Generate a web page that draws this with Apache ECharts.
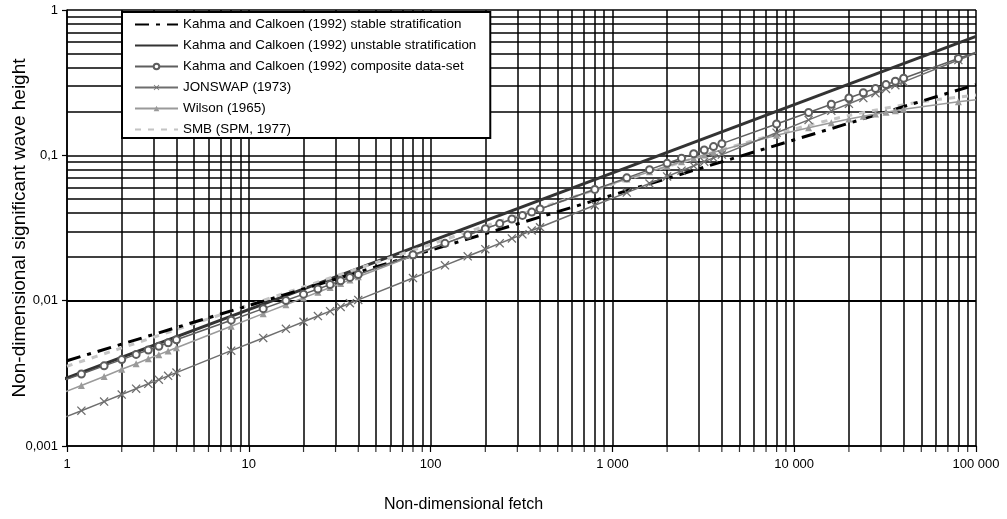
<!DOCTYPE html>
<html><head><meta charset="utf-8">
<script src="https://cdn.jsdelivr.net/npm/echarts@6/dist/echarts.min.js"></script>
<style>html,body{margin:0;padding:0;background:#fff}#c{width:1007px;height:519px}</style>
</head><body><div id="c"></div>
<script>
// ---- data ----
const seriesNames = [
  'Kahma and Calkoen (1992) stable stratification',
  'Kahma and Calkoen (1992) unstable stratification',
  'Kahma and Calkoen (1992) composite data-set',
  'JONSWAP (1973)',
  'Wilson (1965)',
  'SMB (SPM, 1977)'
];
const markerFetch = [1.2,1.6,2,2.4,2.8,3.2,3.6,4,8,
  12,16,20,24,28,32,36,40,80,
  120,160,200,240,280,320,360,400,800,
  1200,1600,2000,2400,2800,3200,3600,4000,8000,
  12000,16000,20000,24000,28000,32000,36000,40000,80000];
const compositeH = [0.00313,0.00356,0.00393,0.00427,0.00458,0.00486,0.00513,0.00538,0.00734,
  0.00881,0.01003,0.01109,0.01203,0.0129,0.0137,0.01445,0.01515,0.0207,
  0.0248,0.0283,0.0313,0.0339,0.0364,0.0386,0.0407,0.0427,0.0583,
  0.070,0.0797,0.0881,0.0956,0.1025,0.1088,0.1148,0.1203,0.1644,
  0.1972,0.2246,0.2482,0.2694,0.2888,0.3067,0.3234,0.3392,0.4633];
const jonswapH = [0.00175,0.00202,0.00226,0.00248,0.00268,0.00286,0.00304,0.0032,0.00453,
  0.00554,0.0064,0.00716,0.00784,0.00847,0.00905,0.0096,0.01012,0.01431,
  0.0175,0.0202,0.0226,0.0248,0.0268,0.0286,0.0304,0.032,0.0453,
  0.0554,0.064,0.0716,0.0784,0.0847,0.0905,0.096,0.1012,0.1431,
  0.1753,0.2024,0.2263,0.2479,0.2677,0.2862,0.3036,0.32,0.4526];
const wilsonH = [0.00261,0.00301,0.00337,0.00368,0.00398,0.00425,0.0045,0.00474,0.00667,
  0.00814,0.00937,0.01045,0.01142,0.01231,0.01313,0.0139,0.01462,0.02037,
  0.0247,0.0282,0.0313,0.034,0.0365,0.0387,0.0408,0.0428,0.0579,
  0.0686,0.0771,0.0841,0.0903,0.0957,0.1005,0.1049,0.1089,0.1373,
  0.155,0.1677,0.1776,0.1856,0.1923,0.1981,0.203,0.2074,0.234];
// line ends (no marker) of the fitted curves
const curveEndFetch = [0.88, 100000];
const compositeEnds = [0.00272, 0.512];
const jonswapEnds = [0.0015, 0.506];
const wilsonEnds = [0.00224, 0.2415];
const stableFetch = [1, 100000];
const stableH = [0.00386, 0.3066];
const unstableFetch = [0.88, 100000];
const unstableH = [0.00277, 0.658];
const smbFetch = [1,2,5,10,20,50,100,200,500,1000,2000,5000,10000,20000,50000,100000];
const smbH = [0.00354,0.00473,0.00695,0.0093,0.01245,0.01826,0.02441,0.03261,0.04765,0.06328,0.08359,0.11873,0.15164,0.18803,0.23381,0.25968];
const xTickLabels = ['1','10','100','1 000','10 000','100 000'];
const yTickLabels = ['0,001','0,01','0,1','1'];
const minorMultipliers = [2,3,4,5,6,7,8,9];
const xDecades = [1,10,100,1000,10000];
const yDecades = [0.001,0.01,0.1];

// ---- build ----
const pair = (xs, ys) => xs.map((x, i) => [x, ys[i]]);
function markerSeriesData(ys, ends) {
  return [{value: [curveEndFetch[0], ends[0]], symbol: 'none'}]
    .concat(pair(markerFetch, ys))
    .concat([{value: [curveEndFetch[1], ends[1]], symbol: 'none'}]);
}
const xMinor = [], yMinor = [];
xDecades.forEach(d => minorMultipliers.forEach(m => xMinor.push(+(d * m).toPrecision(6))));
yDecades.forEach(d => minorMultipliers.forEach(m => yMinor.push(+(d * m).toPrecision(6))));

const FONT = 'Liberation Sans, Arial, sans-serif';
const crossPath = 'path://M0,1L1,0L5,4L9,0L10,1L6,5L10,9L9,10L5,6L1,10L0,9L4,5Z';

const chart = echarts.init(document.getElementById('c'), null, {renderer: 'canvas'});
chart.setOption({
  animation: false,
  backgroundColor: '#fff',
  textStyle: {fontFamily: FONT},
  grid: {left: 67, right: 31, top: 10, bottom: 73, containLabel: false, outerBoundsMode: 'none'},
  legend: {
    orient: 'vertical', left: 122, top: 12,
    data: seriesNames,
    backgroundColor: '#fff', borderColor: '#000', borderWidth: 2,
    padding: [6, 14, 2, 12],
    itemWidth: 43, itemHeight: 7, itemGap: 8,
    textStyle: {fontSize: 13.4, color: '#000', fontFamily: FONT},
    selectedMode: false
  },
  xAxis: {
    type: 'log', logBase: 10, min: 1, max: 100000, splitNumber: 5,
    name: 'Non-dimensional fetch', nameLocation: 'middle', nameGap: 51, nameMoveOverlap: false,
    nameTextStyle: {fontSize: 16, color: '#000', fontFamily: FONT, padding: [0, 116, 0, 0]},
    axisLine: {show: true, lineStyle: {color: '#000', width: 1.5}},
    axisTick: {show: true, length: 6, lineStyle: {color: '#000', width: 1.2}},
    axisLabel: {fontSize: 13, color: '#000', margin: 12, fontFamily: FONT,
      formatter: v => xTickLabels[Math.round(Math.log10(v))]},
    splitLine: {show: true, lineStyle: {color: '#000', width: 1.5}}
  },
  yAxis: {
    type: 'log', logBase: 10, min: 0.001, max: 1, splitNumber: 3,
    name: 'Non-dimensional significant wave height', nameLocation: 'middle', nameGap: 38, nameMoveOverlap: false,
    nameTextStyle: {fontSize: 19, color: '#000', fontFamily: FONT},
    axisLine: {show: true, lineStyle: {color: '#000', width: 1.5}},
    axisTick: {show: true, length: 5, lineStyle: {color: '#000', width: 1.2}},
    axisLabel: {fontSize: 13, color: '#000', margin: 9, fontFamily: FONT,
      formatter: v => yTickLabels[Math.round(Math.log10(v)) + 3]},
    splitLine: {show: true, lineStyle: {color: '#000', width: 1.5}}
  },
  series: [
    {
      name: '_grid', type: 'line', data: [], silent: true,
      markLine: {
        z: 1, silent: true, symbol: ['none', 'none'], animation: false,
        label: {show: false},
        lineStyle: {color: '#000', width: 1.5, type: 'solid'},
        emphasis: {disabled: true},
        data: xMinor.map(v => ({xAxis: v})).concat(yMinor.map(v => ({yAxis: v})))
      }
    },
    {
      name: '_ticks', type: 'scatter', silent: true, z: 3,
      data: xMinor.map(v => [v, 0.001]),
      symbol: 'rect', symbolSize: [1.2, 6], symbolOffset: [0, 3],
      itemStyle: {color: '#000'}
    },
    {
      name: seriesNames[1], type: 'line', clip: false, z: 3,
      data: pair(unstableFetch, unstableH), showSymbol: false, symbol: 'none',
      color: '#333', lineStyle: {color: '#333', width: 3},
      itemStyle: {color: '#333', opacity: 0}
    },
    {
      name: seriesNames[0], type: 'line', clip: false, z: 4,
      data: pair(stableFetch, stableH), showSymbol: false, symbol: 'none',
      color: '#000', lineStyle: {color: '#000', width: 3, type: [14, 7, 4, 7]},
      itemStyle: {color: '#000', opacity: 0}
    },
    {
      name: seriesNames[5], type: 'line', clip: false, z: 3, smooth: 0.2,
      data: pair(smbFetch, smbH), showSymbol: false, symbol: 'none',
      color: '#c4c4c4', lineStyle: {color: '#c4c4c4', width: 3, type: [6, 7]},
      itemStyle: {color: '#c4c4c4', opacity: 0}
    },
    {
      name: seriesNames[4], type: 'line', clip: false, z: 5,
      data: markerSeriesData(wilsonH, wilsonEnds),
      symbol: 'triangle', symbolSize: 7, showAllSymbol: true,
      color: '#9a9a9a', lineStyle: {color: '#9a9a9a', width: 1.5},
      itemStyle: {color: '#9a9a9a'}
    },
    {
      name: seriesNames[3], type: 'line', clip: false, z: 5,
      data: markerSeriesData(jonswapH, jonswapEnds),
      symbol: crossPath, symbolSize: 9, showAllSymbol: true,
      color: '#6e6e6e', lineStyle: {color: '#6e6e6e', width: 1.5},
      itemStyle: {color: '#6e6e6e'}
    },
    {
      name: seriesNames[2], type: 'line', clip: false, z: 6,
      data: markerSeriesData(compositeH, compositeEnds),
      symbol: 'emptyCircle', symbolSize: 7, showAllSymbol: true,
      color: '#5e5e5e', lineStyle: {color: '#5e5e5e', width: 1.5},
      itemStyle: {color: '#5e5e5e', borderWidth: 1}
    }
  ]
});
</script>
</body></html>
